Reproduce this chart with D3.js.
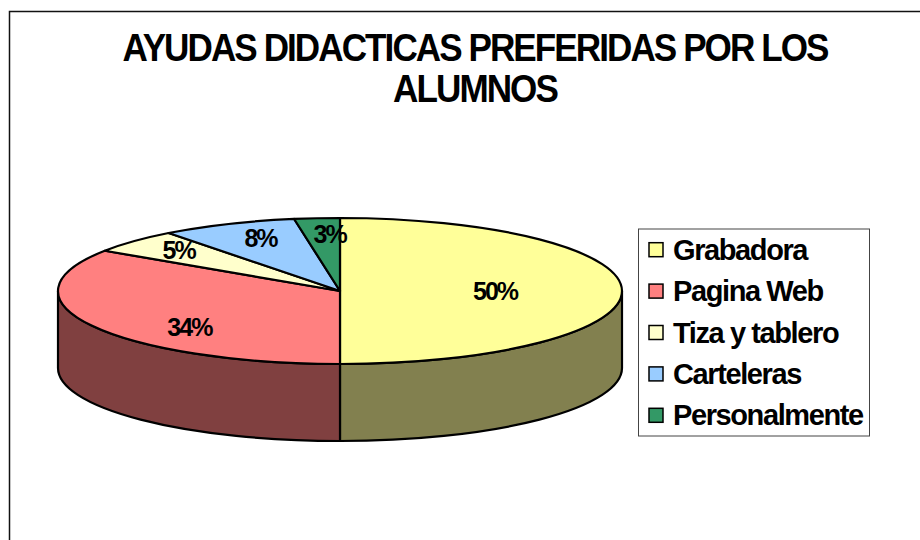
<!DOCTYPE html>
<html>
<head>
<meta charset="utf-8">
<script src="https://cdn.jsdelivr.net/npm/d3@7"></script>
<style>
  body { margin: 0; background: #fff; }
  text { font-family: "Liberation Sans", Arial, sans-serif; font-weight: bold; fill: #000; }
</style>
</head>
<body>
<svg id="chart" width="920" height="540"></svg>
<script>
const categories = ['Grabadora', 'Pagina Web', 'Tiza y tablero', 'Carteleras', 'Personalmente']
const values = [50, 34.3, 5.3, 7.8, 2.6]
const colors = ['#FFFF99', '#FF8080', '#FFFFCC', '#99CCFF', '#339966']
const sideColors = ['#82804F', '#804040']
const titleLines = ['AYUDAS DIDACTICAS PREFERIDAS POR LOS', 'ALUMNOS']

const svg = d3.select('#chart')
const cx = 340, cy = 291, rx = 282, ry = 73, depth = 77

// chart frame runs off the right and bottom of the picture
svg.append('path')
  .attr('d', 'M9.5,540V11.5H920')
  .attr('fill', 'none')
  .attr('stroke', '#111')
  .attr('stroke-width', 1.5)

svg.append('g')
  .selectAll('text')
  .data(titleLines)
  .enter()
  .append('text')
  .attr('transform', (d, i) => `translate(475,${61 + i * 41}) scale(0.9,1)`)
  .attr('text-anchor', 'middle')
  .attr('font-size', 39)
  .attr('letter-spacing', -2.15)
  .text((d) => d)

const pie = d3.pie().sort(null).value((d) => d)(values)

// angle 0 is 12 o'clock, going clockwise, same as d3.pie
const px = (a) => cx + rx * Math.sin(a)
const py = (a) => cy - ry * Math.cos(a)

function topPath(d) {
  const large = d.endAngle - d.startAngle > Math.PI ? 1 : 0
  return `M${cx},${cy}L${px(d.startAngle)},${py(d.startAngle)}A${rx},${ry} 0 ${large} 1 ${px(d.endAngle)},${py(d.endAngle)}Z`
}

// wall of the disc, only the part that faces the viewer
function sidePath(d) {
  const a0 = Math.max(d.startAngle, Math.PI / 2)
  const a1 = Math.min(d.endAngle, Math.PI * 1.5)
  if (a1 <= a0) return null
  return `M${px(a0)},${py(a0)}A${rx},${ry} 0 0 1 ${px(a1)},${py(a1)}L${px(a1)},${py(a1) + depth}A${rx},${ry} 0 0 0 ${px(a0)},${py(a0) + depth}Z`
}

const disc = svg.append('g')
  .attr('stroke', '#000')
  .attr('stroke-width', 2.2)
  .attr('stroke-linejoin', 'round')

disc.selectAll('path.side')
  .data(pie.filter(sidePath))
  .enter()
  .append('path')
  .attr('class', 'side')
  .attr('d', sidePath)
  .attr('fill', (d, i) => sideColors[i])

disc.selectAll('path.top')
  .data(pie)
  .enter()
  .append('path')
  .attr('class', 'top')
  .attr('d', topPath)
  .attr('fill', (d, i) => colors[i])

// percent labels start at a fraction of the radius, then get nudged by hand
const labelRadius = [0.55, 0.55, 0.71, 0.71, 0.71]
const labelNudge = [[0, 0], [-14, 17], [-15, -6], [0, -5], [6, -5]]
svg.append('g')
  .selectAll('text')
  .data(pie)
  .enter()
  .append('text')
  .attr('x', (d, i) => {
    const a = (d.startAngle + d.endAngle) / 2
    return cx + rx * labelRadius[i] * Math.sin(a) + labelNudge[i][0]
  })
  .attr('y', (d, i) => {
    const a = (d.startAngle + d.endAngle) / 2
    return cy - ry * labelRadius[i] * Math.cos(a) + 9 + labelNudge[i][1]
  })
  .attr('text-anchor', 'middle')
  .attr('font-size', 25)
  .attr('letter-spacing', -2)
  .text((d) => Math.round(d.value) + '%')

// legend
const legendY = d3.scaleBand().domain(categories).range([229, 436])
const legend = svg.append('g')
legend.append('rect')
  .attr('x', 638.5)
  .attr('y', 229)
  .attr('width', 231)
  .attr('height', 207)
  .attr('fill', '#fff')
  .attr('stroke', '#444')
  .attr('stroke-width', 1)

const row = legend.selectAll('g')
  .data(categories)
  .enter()
  .append('g')
  .attr('transform', (d) => `translate(0,${legendY(d) + legendY.bandwidth() / 2})`)

row.append('rect')
  .attr('x', 649)
  .attr('y', -7)
  .attr('width', 14)
  .attr('height', 14)
  .attr('fill', (d, i) => colors[i])
  .attr('stroke', '#000')
  .attr('stroke-width', 1.5)

row.append('text')
  .attr('x', 673)
  .attr('y', 10)
  .attr('font-size', 29)
  .attr('letter-spacing', -1.4)
  .text((d) => d)
</script>
</body>
</html>
